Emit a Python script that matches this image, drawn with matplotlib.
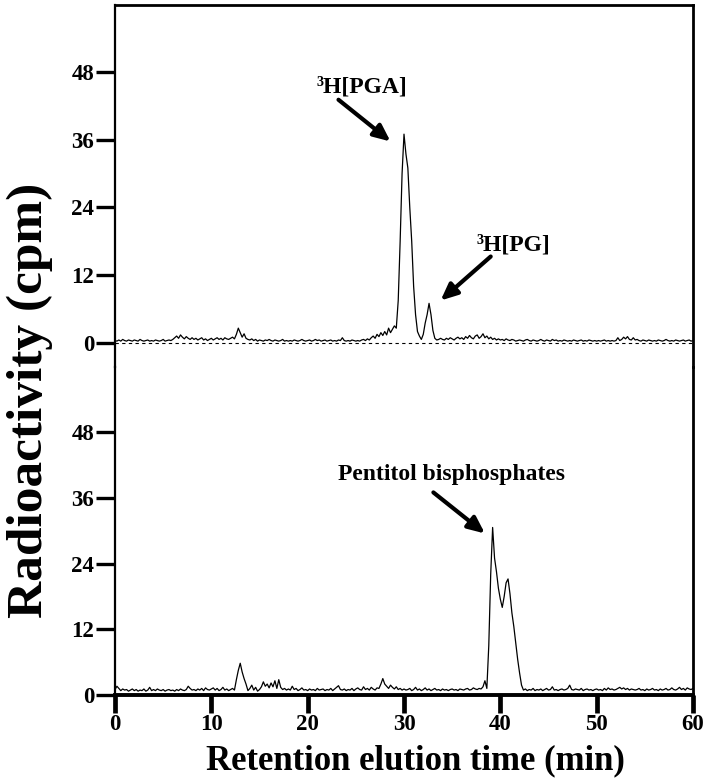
import numpy as np
import matplotlib
matplotlib.use("Agg")
import matplotlib.pyplot as plt

# retention time grid (min), 0.2 min sampling
time_min = np.round(np.arange(0, 60.0001, 0.2), 1)

# upper trace (cpm)
upper_cpm = [
    0.4,0.3,0.5,0.3,0.6,0.4,0.3,0.5,0.4,0.3,
    0.5,0.4,0.3,0.6,0.4,0.3,0.4,0.5,0.3,0.4,
    0.3,0.5,0.4,0.3,0.4,0.6,0.3,0.4,0.5,0.4,
    0.6,0.9,1.2,0.8,1.4,1.0,0.7,1.1,0.8,0.6,
    0.9,0.6,0.8,0.5,0.7,0.9,0.5,0.7,0.4,0.6,
    0.8,0.5,0.7,0.9,0.6,0.8,0.5,0.9,0.7,0.6,
    0.8,1.0,0.7,1.5,2.6,1.8,1.0,1.6,0.8,0.6,
    0.5,0.7,0.4,0.6,0.3,0.5,0.4,0.3,0.5,0.4,
    0.6,0.4,0.3,0.5,0.4,0.3,0.4,0.6,0.3,0.4,
    0.3,0.4,0.3,0.5,0.4,0.3,0.4,0.6,0.4,0.3,
    0.4,0.5,0.3,0.4,0.6,0.4,0.5,0.3,0.4,0.5,
    0.3,0.4,0.5,0.3,0.4,0.3,0.5,0.4,0.9,0.4,
    0.3,0.4,0.3,0.5,0.4,0.3,0.4,0.3,0.5,0.6,
    0.4,0.7,0.5,0.9,1.2,0.8,1.5,1.1,1.8,1.3,
    2.0,1.4,2.6,1.8,2.4,3.0,2.6,7.5,18.0,30.0,
    37.0,33.5,31.0,24.0,18.0,10.0,5.0,2.0,1.2,0.6,
    1.5,3.5,5.0,7.0,5.0,2.2,0.8,0.5,0.6,0.8,
    0.6,0.5,0.8,0.6,0.9,0.7,0.5,0.8,1.0,0.7,
    0.9,0.6,1.1,0.8,1.3,0.9,0.7,1.2,1.4,0.8,
    1.1,1.6,0.9,1.2,0.7,1.0,0.6,0.8,0.5,0.7,
    0.5,0.6,0.4,0.7,0.5,0.4,0.6,0.5,0.3,0.4,
    0.5,0.4,0.3,0.5,0.6,0.4,0.3,0.5,0.4,0.3,
    0.4,0.6,0.4,0.3,0.5,0.4,0.3,0.6,0.4,0.5,
    0.3,0.4,0.3,0.5,0.4,0.3,0.4,0.3,0.5,0.4,
    0.3,0.4,0.5,0.3,0.4,0.3,0.5,0.4,0.3,0.4,
    0.3,0.4,0.3,0.4,0.5,0.3,0.4,0.3,0.4,0.3,
    0.4,0.9,0.4,0.6,1.0,0.7,1.1,0.6,0.5,0.9,
    0.5,0.6,0.4,0.3,0.5,0.4,0.3,0.5,0.4,0.3,
    0.4,0.3,0.5,0.4,0.3,0.4,0.6,0.4,0.3,0.4,
    0.3,0.5,0.4,0.3,0.4,0.5,0.3,0.4,0.5,0.3,
    0.4,
]

# lower trace (cpm)
lower_cpm = [
    1.0,1.6,1.2,0.8,1.1,0.9,1.0,0.7,0.9,1.1,
    0.8,1.0,0.7,0.9,0.8,1.1,0.7,0.9,1.4,0.8,
    1.0,0.8,1.1,0.9,0.8,1.0,0.7,0.9,1.0,0.8,
    0.9,0.7,1.0,0.8,1.1,0.9,0.8,1.0,1.6,1.2,
    0.9,1.0,0.8,1.1,0.9,1.2,0.8,1.3,1.0,0.9,
    1.1,1.3,0.9,1.2,0.8,1.0,1.4,0.9,1.1,0.8,
    1.0,1.2,0.9,2.8,4.5,5.8,4.2,3.0,2.0,0.8,
    1.2,1.8,0.9,1.4,0.7,1.0,1.5,2.4,1.6,2.0,
    1.3,2.2,1.5,2.6,1.2,2.8,1.4,1.0,1.2,0.9,
    1.1,0.9,1.6,1.0,1.2,0.8,1.0,1.3,0.9,1.0,
    0.8,1.1,0.9,1.0,0.8,1.2,0.9,1.0,1.1,0.8,
    1.0,0.9,1.2,0.8,1.1,1.4,1.7,1.0,0.9,1.1,
    0.8,1.0,0.9,1.2,0.8,1.1,1.3,1.0,0.9,1.5,
    1.0,1.2,0.9,1.4,1.1,0.9,1.3,1.2,2.0,3.0,
    2.0,1.6,1.2,1.8,1.4,1.1,1.5,1.0,1.2,0.9,
    1.1,0.9,1.0,1.2,0.8,1.0,1.4,0.9,1.1,0.8,
    1.0,1.3,0.9,1.1,0.8,1.0,1.2,0.9,1.0,0.8,
    1.1,0.9,1.0,0.8,1.0,1.1,0.9,1.0,0.8,1.1,
    1.0,0.9,1.1,1.2,0.9,1.0,1.3,1.1,1.0,1.2,
    1.1,1.5,2.6,1.2,9.0,22.0,30.6,25.0,22.5,19.5,
    17.5,16.0,18.0,20.5,21.2,18.5,15.0,12.5,9.5,6.5,
    4.0,1.8,0.9,1.1,0.8,1.0,0.9,1.2,0.8,1.0,
    0.9,1.1,0.8,1.0,1.2,0.9,1.0,1.5,0.9,1.0,
    0.8,1.0,1.1,0.9,1.0,1.2,1.8,1.0,0.9,1.1,
    1.0,0.9,1.2,0.8,1.0,1.1,0.9,1.0,0.8,1.0,
    1.1,0.9,1.0,0.8,1.2,0.9,1.3,1.0,1.1,0.9,
    1.0,1.2,1.4,1.1,1.3,1.0,1.2,0.9,1.1,1.0,
    0.9,1.0,1.2,0.9,1.0,0.8,1.1,0.9,1.0,1.2,
    0.9,1.0,0.8,1.1,0.9,1.0,1.2,0.9,1.0,1.3,
    1.0,0.9,1.1,1.4,1.0,1.2,0.9,1.3,1.1,1.0,
    1.2,
]

y_ticks = [0, 12, 24, 36, 48]
x_ticks = [0, 10, 20, 30, 40, 50, 60]

FONT = "Liberation Serif"
W, H = 712, 782
fig = plt.figure(figsize=(W / 100, H / 100), dpi=100)

def frac_y(px):
    return 1 - px / H

left = 115 / W
width = (693 - 115) / W
ax_top = fig.add_axes([left, frac_y(366.5), width, (366.5 - 5) / H])
ax_bot = fig.add_axes([left, frac_y(695), width, (695 - 366.5) / H])

for ax, data in ((ax_top, upper_cpm), (ax_bot, lower_cpm)):
    ax.plot(time_min, data, color="black", lw=0.9)
    ax.plot([0, 60], [0, 0], color="black", lw=0.8, ls=(0, (3, 3)))
    ax.set_xlim(0, 60)
    ax.set_yticks(y_ticks)
    ax.set_yticklabels([str(v) for v in y_ticks], fontfamily=FONT,
                       fontweight="bold", fontsize=16.5)
    ax.tick_params(axis="y", direction="out", length=14, width=2.4, pad=1,
                   right=False)
    ax.spines["left"].set_linewidth(1.6)
    ax.spines["right"].set_linewidth(2.0)
    ax.spines["top"].set_linewidth(2.0)
    ax.spines["bottom"].set_linewidth(2.8)
    ax.patch.set_alpha(0)

ax_top.set_ylim(-4.2, 59.9)
ax_bot.set_ylim(0, 60)

ax_top.spines["bottom"].set_visible(False)
ax_top.tick_params(axis="x", bottom=False, labelbottom=False)
ax_bot.spines["top"].set_visible(False)

ax_bot.set_xticks(x_ticks)
ax_bot.set_xticklabels([str(v) for v in x_ticks], fontfamily=FONT,
                       fontweight="bold", fontsize=16.5)
ax_bot.tick_params(axis="x", direction="out", length=13, width=3.4, pad=1,
                   top=False)

ann_kw = dict(fontfamily=FONT, fontweight="bold", fontsize=17,
              ha="center", va="center")
arrow_kw = dict(arrowstyle="-|>,head_length=1.0,head_width=0.45",
                lw=3.0, color="black", shrinkA=0, shrinkB=0)

ax_top.text(25.6, 45.4, "\u00b3H[PGA]", **ann_kw)
ax_top.annotate("", xy=(28.6, 35.7), xytext=(23.2, 43.1), arrowprops=arrow_kw)
ax_top.text(41.4, 17.3, "\u00b3H[PG]", **ann_kw)
ax_top.annotate("", xy=(33.8, 7.5), xytext=(39.0, 15.3), arrowprops=arrow_kw)

ax_bot.text(34.9, 40.2, "Pentitol bisphosphates", **ann_kw)
ax_bot.annotate("", xy=(38.4, 29.5), xytext=(33.05, 37.0), arrowprops=arrow_kw)

fig.text(30 / W, frac_y(400), "Radioactivity (cpm)", rotation=90,
         ha="center", va="center", fontfamily=FONT, fontweight="bold",
         fontsize=37)
fig.text(415 / W, frac_y(761), "Retention elution time (min)",
         ha="center", va="center", fontfamily=FONT, fontweight="bold",
         fontsize=25)

fig.savefig("out.png", dpi=100)
